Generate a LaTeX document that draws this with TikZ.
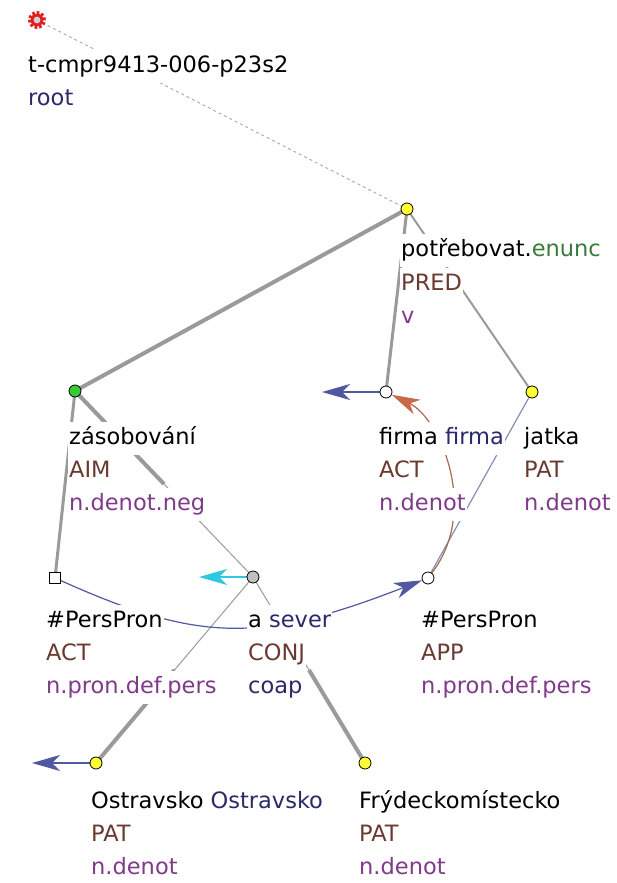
\documentclass[tikz,border=0pt]{standalone}
\usepackage{fontspec}
\setmainfont{DejaVu Sans}
\usetikzlibrary{arrows.meta,calc}

\definecolor{edgegray}{HTML}{9A9A9A}
\definecolor{dashgray}{HTML}{A8A8A8}
\definecolor{formblue}{HTML}{2A2A6A}
\definecolor{functor}{HTML}{6A3A30}
\definecolor{gram}{HTML}{803A8A}
\definecolor{sentmod}{HTML}{3A7A3A}
\definecolor{corblue}{HTML}{5058A0}
\definecolor{corcyan}{HTML}{30C8E0}
\definecolor{corbrown}{HTML}{A86A50}
\definecolor{corbrownhead}{HTML}{C86A48}
\definecolor{appline}{HTML}{8090B8}
\definecolor{nyellow}{HTML}{FFFF33}
\definecolor{ngreen}{HTML}{33CC33}
\definecolor{ngray}{HTML}{C0C0C0}
\definecolor{rootred}{HTML}{E02020}

\pgfdeclarelayer{edges}
\pgfdeclarelayer{labels}
\pgfsetlayers{edges,labels,main}

\tikzset{
  tnode/.style={circle, draw=black, line width=0.8pt, minimum size=12pt, inner sep=0pt},
  gennode/.style={rectangle, draw=black, line width=0.8pt, fill=white, minimum size=11pt, inner sep=0pt},
  lab/.style={anchor=base west, fill=white, inner xsep=1pt, inner ysep=0pt,
    text height=22pt, text depth=11pt, font=\fontsize{22.5pt}{27pt}\selectfont},
  edgeA/.style={draw=edgegray, line width=4pt},
  edgeB/.style={draw=edgegray, line width=3pt},
  edgeC/.style={draw=edgegray, line width=2pt},
  edgethin/.style={draw=edgegray, line width=1pt},
  rootedge/.style={draw=dashgray, line width=0.9pt, dash pattern=on 3pt off 3pt},
  corhead/.style={-{Stealth[length=28pt, width=16pt, inset=8pt]}},
}

\begin{document}
\begin{tikzpicture}[x=1pt, y=-1pt]
\useasboundingbox (0,0) rectangle (617,883);

% tree nodes
\node[circle, fill=rootred, minimum size=13pt, inner sep=0pt] (root) at (37,20) {};
\draw[rootred, line width=3.2pt, dash pattern=on 2.6pt off 2pt] (root.center) circle (7.4pt);
\fill[gray!35] (root.center) circle (3.4pt);
\node[tnode, fill=nyellow] (pred) at (407,209) {};
\node[tnode, fill=ngreen] (aim) at (75,391) {};
\node[tnode, fill=white] (firma) at (386,392) {};
\node[tnode, fill=nyellow] (jatka) at (532,392) {};
\node[gennode] (actp) at (55,578) {};
\node[tnode, fill=ngray] (conj) at (253,577) {};
\node[tnode, fill=white] (app) at (428,578) {};
\node[tnode, fill=nyellow] (ostr) at (96,763) {};
\node[tnode, fill=nyellow] (fryd) at (365,763) {};

% free ends of the references leaving the tree
\coordinate (firmaext) at (322,392);
\coordinate (conjext) at (199,577);
\coordinate (ostrext) at (32,763);

\begin{pgfonlayer}{edges}
  \draw[rootedge] (root.center) -- (pred.center);
  \draw[edgeA] (pred.center) -- (aim.center);
  \draw[edgeB] (pred.center) -- (firma.center);
  \draw[edgeC] (pred.center) -- (jatka.center);
  \draw[edgeB] (aim.center) -- (actp.center);
  % coordination: thick half at the effective parent side
  \draw[edgeA] (aim.center) -- ($(aim)!0.5!(conj)$);
  \draw[edgethin] ($(aim)!0.5!(conj)$) -- (conj.center);
  \draw[edgethin] (conj.center) -- ($(conj)!0.5!(ostr)$);
  \draw[edgeA] ($(conj)!0.5!(ostr)$) -- (ostr.center);
  \draw[edgethin] (conj.center) -- ($(conj)!0.5!(fryd)$);
  \draw[edgeA] ($(conj)!0.5!(fryd)$) -- (fryd.center);
  \draw[appline, line width=1.2pt] (jatka.center) -- (app.center);
  % coreference links
  \draw[corblue, line width=1.2pt, corhead] (actp) .. controls (200,643) and (261,643) .. (app);
  \draw[corbrown, line width=1.2pt, -{Stealth[length=28pt, width=16pt, inset=8pt, color=corbrownhead]}]
    (app) .. controls (480,510) and (440,418) .. (firma);
  \draw[corblue, line width=1.2pt, corhead] (firma) -- (firmaext);
  \draw[corcyan, line width=1.2pt, corhead] (conj) -- (conjext);
  \draw[corblue, line width=1.2pt, corhead] (ostr) -- (ostrext);
\end{pgfonlayer}

\begin{pgfonlayer}{labels}
  \node[lab] (rootL1) at (27,72) {t-cmpr9413-006-p23s2};
  \node[lab, text=formblue] (rootL2) at (27,105) {root};

  \node[lab] (predL1) at (400,256) {potřebovat.\textcolor{sentmod}{enunc}};
  \node[lab, text=functor] (predL2) at (400,290) {PRED};
  \node[lab, text=gram] (predL3) at (400,323) {v};

  \node[lab] (aimL1) at (68,444) {zásobování};
  \node[lab, text=functor] (aimL2) at (68,477) {AIM};
  \node[lab, text=gram] (aimL3) at (68,510) {n.denot.neg};

  \node[lab] (firmaL1) at (378,444) {firma \textcolor{formblue}{firma}};
  \node[lab, text=functor] (firmaL2) at (378,477) {ACT};
  \node[lab, text=gram] (firmaL3) at (378,510) {n.denot};

  \node[lab] (jatkaL1) at (523,444) {jatka};
  \node[lab, text=functor] (jatkaL2) at (523,477) {PAT};
  \node[lab, text=gram] (jatkaL3) at (523,510) {n.denot};

  \node[lab] (actpL1) at (45,627) {\#PersPron};
  \node[lab, text=functor] (actpL2) at (45,660) {ACT};
  \node[lab, text=gram] (actpL3) at (45,693) {n.pron.def.pers};

  \node[lab] (conjL1) at (247,627) {a \textcolor{formblue}{sever}};
  \node[lab, text=functor] (conjL2) at (247,660) {CONJ};
  \node[lab, text=formblue] (conjL3) at (247,693) {coap};

  \node[lab] (appL1) at (420,627) {\#PersPron};
  \node[lab, text=functor] (appL2) at (420,660) {APP};
  \node[lab, text=gram] (appL3) at (420,693) {n.pron.def.pers};

  \node[lab] (ostrL1) at (90,808) {Ostravsko \textcolor{formblue}{Ostravsko}};
  \node[lab, text=functor] (ostrL2) at (90,841) {PAT};
  \node[lab, text=gram] (ostrL3) at (90,874) {n.denot};

  \node[lab] (frydL1) at (358,808) {Frýdeckomístecko};
  \node[lab, text=functor] (frydL2) at (358,841) {PAT};
  \node[lab, text=gram] (frydL3) at (358,874) {n.denot};
\end{pgfonlayer}
\end{tikzpicture}
\end{document}
